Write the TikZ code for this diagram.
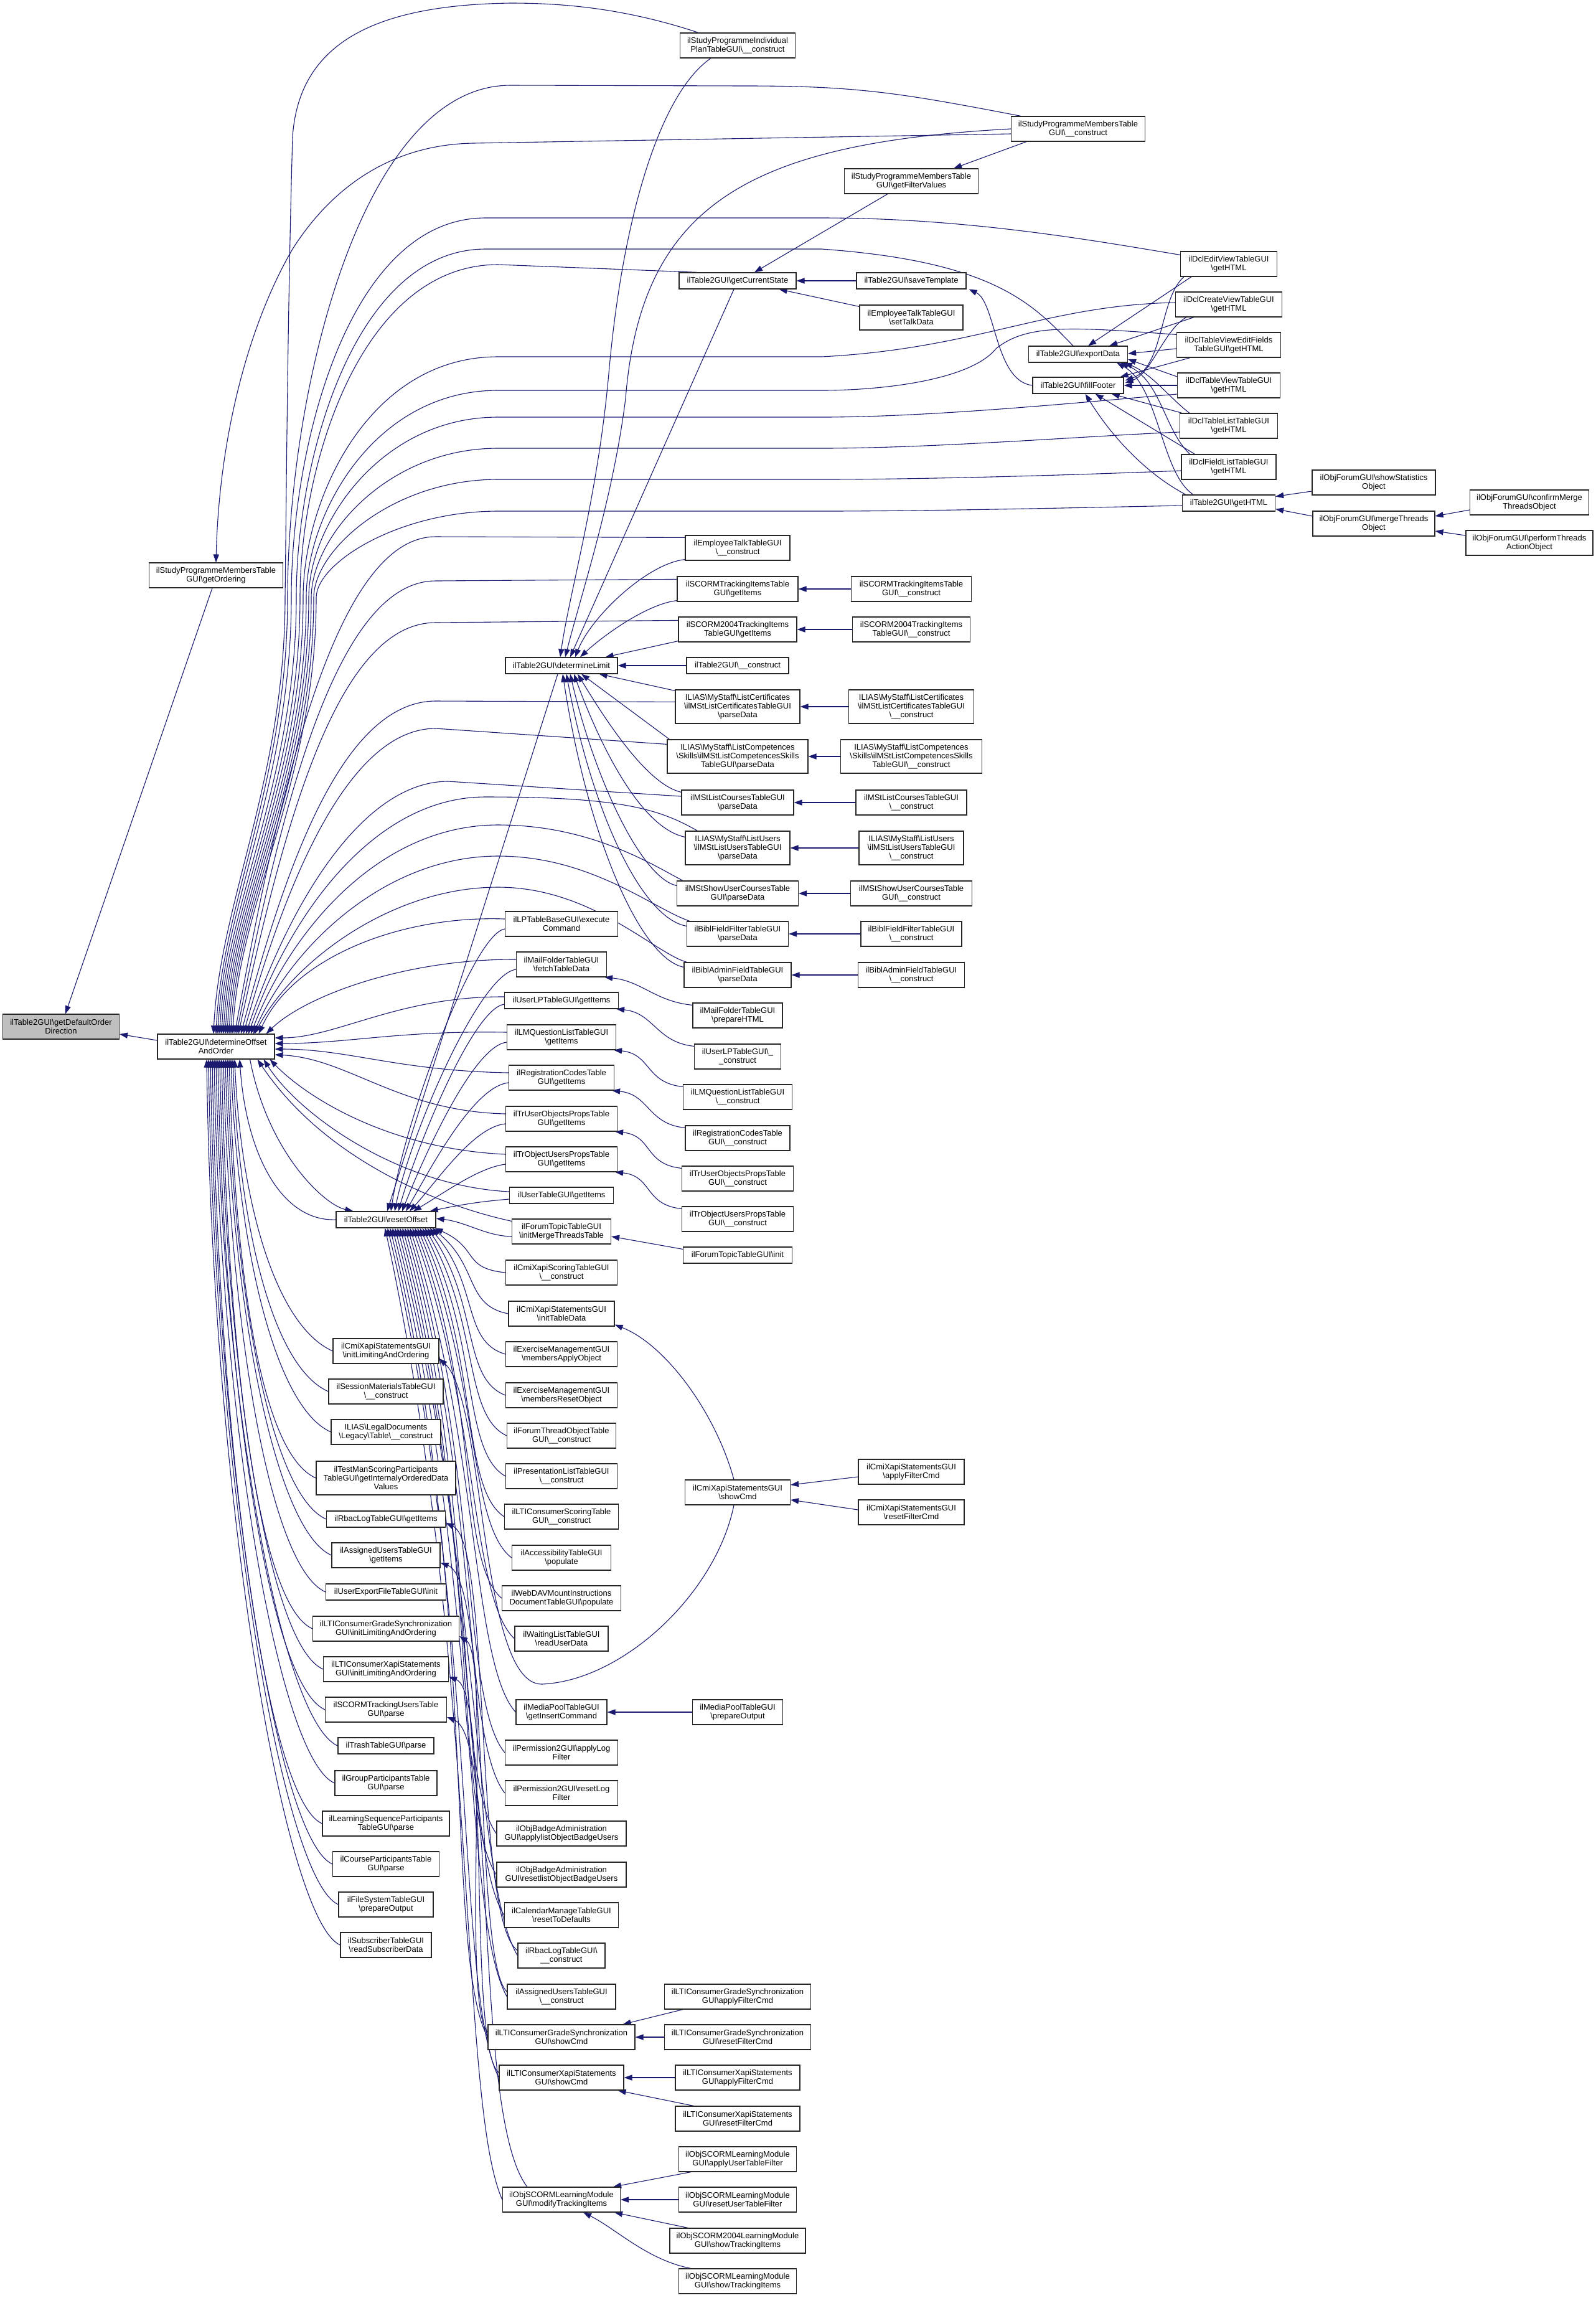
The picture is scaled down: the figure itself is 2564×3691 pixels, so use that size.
\documentclass[tikz,border=0pt]{standalone}
\usepackage{fontspec}
\setmainfont{Liberation Sans}
\usetikzlibrary{arrows.meta,calc}
\definecolor{edgec}{HTML}{191970}
\definecolor{gfill}{HTML}{BFBFBF}
\newcommand\bsl{\textbackslash}
\pgfdeclarelayer{bg}
\pgfsetlayers{bg,main}
\tikzset{
  nbox/.style={draw=black!85, line width=0.6pt, fill=white, font=\fontsize{6.5pt}{7pt}\selectfont, align=center, inner sep=0pt},
  edg/.style={draw=edgec, line width=0.55pt, -{Triangle[length=6.5pt,width=4.6pt]}},
}
\newcommand\nd[6]{\node[nbox,minimum width=#4*0.5pt,minimum height=#5*0.5pt] (#1) at (#2,#3) {#6};}
% high sources into DO top
\newcommand\edTh[6]{\draw[edg] #1 (#4,#2) .. controls (#5,#2) and (#6,{#2+0.6*(960-(#2))}) .. (#6,960) .. controls (#6,1250) and ({357+(#3)},1450) .. ($(DO.north)+(#3,0)$);}
% lower sources into DO top
\newcommand\edT[6]{\draw[edg] #1 (#4,#2) .. controls (#5,#2) and ({#6},{#2+0.5*(1661-(#2))}) .. ($(DO.north)+(#3,0)$);}
% rank-2 nodes into DO bottom
\newcommand\edB[2]{\draw[edg] let \p1=(#1.west), \p2=($(DO.south)+(#2,0)$) in (#1.west) .. controls ({\x1-45pt},{\y1+20pt}) and ({\x2+5pt},{\y2+0.5*(\y1-\y2)}) .. ($(DO.south)+(#2,0)$);}
% lower rank-3 nodes into resetOffset
\newcommand\edR[2]{\draw[edg] let \p1=(#1.west), \p2=($(RO.south east)+(#2,0)$) in (#1.west) .. controls ({\x1-35pt},{\y1+0.1*(\y2-\y1)}) and (385pt,{\y2+0.45*(\y1-\y2)}) .. ($(RO.south east)+(#2,0)$);}
% step-down edges
\newcommand\edS[2]{\draw[edg] ($(#1.north west)+(0,4)$) .. controls +(-60,-6) and +(60,6) .. ($(#2.south east)+(-4,0)$);}
\begin{document}
\begin{tikzpicture}[x=0.5pt,y=-0.5pt]
\useasboundingbox (0,0) rectangle (2564,3691);
\begin{pgfonlayer}{bg}
\fill[white] (0,0) rectangle (2564,3691);
\end{pgfonlayer}
% ---------------- nodes ----------------
\node[nbox,fill=gfill,minimum width=93.5pt,minimum height=20pt] (GDO) at (98,1649) {ilTable2GUI\bsl{}getDefaultOrder\\Direction};
\nd{GOR}{347}{924}{215}{40}{ilStudyProgrammeMembersTable\\GUI\bsl{}getOrdering}
\nd{DO}{347}{1681}{188}{40}{ilTable2GUI\bsl{}determineOffset\\AndOrder}
% rank 2
\nd{RO}{620}{1959}{160}{26}{ilTable2GUI\bsl{}resetOffset}
\nd{CA}{620}{2170}{170}{40}{ilCmiXapiStatementsGUI\\\bsl{}initLimitingAndOrdering}
\nd{CB}{620}{2235}{184}{40}{ilSessionMaterialsTableGUI\\\bsl{}\_\_construct}
\nd{CC}{620}{2300}{176}{40}{ILIAS\bsl{}LegalDocuments\\\bsl{}Legacy\bsl{}Table\bsl{}\_\_construct}
\nd{CD}{620}{2374}{224}{54}{ilTestManScoringParticipants\\TableGUI\bsl{}getInternalyOrderedData\\Values}
\nd{CE}{620}{2440}{191}{26}{ilRbacLogTableGUI\bsl{}getItems}
\nd{CF}{620}{2498}{174}{40}{ilAssignedUsersTableGUI\\\bsl{}getItems}
\nd{CG}{620}{2557}{193}{26}{ilUserExportFileTableGUI\bsl{}init}
\nd{CH}{620}{2616}{235}{40}{ilLTIConsumerGradeSynchronization\\GUI\bsl{}initLimitingAndOrdering}
\nd{CI}{620}{2681}{201}{40}{ilLTIConsumerXapiStatements\\GUI\bsl{}initLimitingAndOrdering}
\nd{CJ}{620}{2746}{195}{40}{ilSCORMTrackingUsersTable\\GUI\bsl{}parse}
\nd{CK}{620}{2804}{154}{26}{ilTrashTableGUI\bsl{}parse}
\nd{CL}{620}{2864}{164}{40}{ilGroupParticipantsTable\\GUI\bsl{}parse}
\nd{CM}{620}{2929}{204}{40}{ilLearningSequenceParticipants\\TableGUI\bsl{}parse}
\nd{CN}{620}{2994}{171}{40}{ilCourseParticipantsTable\\GUI\bsl{}parse}
\nd{CO}{620}{3059}{152}{40}{ilFileSystemTableGUI\\\bsl{}prepareOutput}
\nd{CP}{620}{3124}{146}{40}{ilSubscriberTableGUI\\\bsl{}readSubscriberData}
% rank 3
\nd{DL}{902}{1069}{180}{26}{ilTable2GUI\bsl{}determineLimit}
\nd{LPT}{902}{1484}{181}{40}{ilLPTableBaseGUI\bsl{}execute\\Command}
\nd{MFF}{902}{1549}{145}{40}{ilMailFolderTableGUI\\\bsl{}fetchTableData}
\nd{ULG}{902}{1607}{183}{26}{ilUserLPTableGUI\bsl{}getItems}
\nd{LMG}{902}{1666}{175}{40}{ilLMQuestionListTableGUI\\\bsl{}getItems}
\nd{RCG}{902}{1731}{169}{40}{ilRegistrationCodesTable\\GUI\bsl{}getItems}
\nd{TUG}{902}{1797}{179}{40}{ilTrUserObjectsPropsTable\\GUI\bsl{}getItems}
\nd{TOG}{902}{1862}{179}{40}{ilTrObjectUsersPropsTable\\GUI\bsl{}getItems}
\nd{UTG}{902}{1920}{167}{26}{ilUserTableGUI\bsl{}getItems}
\nd{FTM}{902}{1978}{159}{40}{ilForumTopicTableGUI\\\bsl{}initMergeThreadsTable}
\nd{CXS}{902}{2044}{179}{40}{ilCmiXapiScoringTableGUI\\\bsl{}\_\_construct}
\nd{CXT}{902}{2110}{170}{40}{ilCmiXapiStatementsGUI\\\bsl{}initTableData}
\nd{EMA}{902}{2175}{179}{40}{ilExerciseManagementGUI\\\bsl{}membersApplyObject}
\nd{EMR}{902}{2241}{179}{40}{ilExerciseManagementGUI\\\bsl{}membersResetObject}
\nd{FTO}{902}{2306}{175}{40}{ilForumThreadObjectTable\\GUI\bsl{}\_\_construct}
\nd{PLC}{902}{2371}{179}{40}{ilPresentationListTableGUI\\\bsl{}\_\_construct}
\nd{LSC}{902}{2436}{183}{40}{ilLTIConsumerScoringTable\\GUI\bsl{}\_\_construct}
\nd{ACC}{902}{2502}{159}{40}{ilAccessibilityTableGUI\\\bsl{}populate}
\nd{WDV}{902}{2567}{191}{40}{ilWebDAVMountInstructions\\DocumentTableGUI\bsl{}populate}
\nd{WLR}{902}{2632}{150}{40}{ilWaitingListTableGUI\\\bsl{}readUserData}
\nd{MPI}{902}{2750}{146}{40}{ilMediaPoolTableGUI\\\bsl{}getInsertCommand}
\nd{PAL}{902}{2815}{181}{40}{ilPermission2GUI\bsl{}applyLog\\Filter}
\nd{PRL}{902}{2880}{181}{40}{ilPermission2GUI\bsl{}resetLog\\Filter}
\nd{OBA}{902}{2945}{208}{40}{ilObjBadgeAdministration\\GUI\bsl{}applylistObjectBadgeUsers}
\nd{OBR}{902}{3011}{208}{40}{ilObjBadgeAdministration\\GUI\bsl{}resetlistObjectBadgeUsers}
\nd{CMR}{902}{3076}{183}{40}{ilCalendarManageTableGUI\\\bsl{}resetToDefaults}
\nd{RLC}{902}{3141}{140}{40}{ilRbacLogTableGUI\bsl{}\\\_\_construct}
\nd{AUC}{902}{3207}{174}{40}{ilAssignedUsersTableGUI\\\bsl{}\_\_construct}
\nd{LGS}{902}{3272}{236}{40}{ilLTIConsumerGradeSynchronization\\GUI\bsl{}showCmd}
\nd{LXS}{902}{3337}{200}{40}{ilLTIConsumerXapiStatements\\GUI\bsl{}showCmd}
\nd{MTI}{902}{3533}{189}{40}{ilObjSCORMLearningModule\\GUI\bsl{}modifyTrackingItems}
% rank 4
\nd{SPI}{1185}{73}{185}{40}{ilStudyProgrammeIndividual\\PlanTableGUI\bsl{}\_\_construct}
\nd{GCS}{1185}{451}{188}{26}{ilTable2GUI\bsl{}getCurrentState}
\nd{ETC}{1185}{880}{168}{40}{ilEmployeeTalkTableGUI\\\bsl{}\_\_construct}
\nd{STG}{1185}{946}{194}{40}{ilSCORMTrackingItemsTable\\GUI\bsl{}getItems}
\nd{S4G}{1185}{1011}{190}{40}{ilSCORM2004TrackingItems\\TableGUI\bsl{}getItems}
\nd{T2C}{1185}{1069}{164}{26}{ilTable2GUI\bsl{}\_\_construct}
\nd{LCP}{1185}{1135}{200}{54}{ILIAS\bsl{}MyStaff\bsl{}ListCertificates\\\bsl{}ilMStListCertificatesTableGUI\\\bsl{}parseData}
\nd{LMP}{1185}{1215}{226}{54}{ILIAS\bsl{}MyStaff\bsl{}ListCompetences\\\bsl{}Skills\bsl{}ilMStListCompetencesSkills\\TableGUI\bsl{}parseData}
\nd{MCP}{1185}{1289}{180}{40}{ilMStListCoursesTableGUI\\\bsl{}parseData}
\nd{LUP}{1185}{1362}{168}{54}{ILIAS\bsl{}MyStaff\bsl{}ListUsers\\\bsl{}ilMStListUsersTableGUI\\\bsl{}parseData}
\nd{MSP}{1185}{1435}{195}{40}{ilMStShowUserCoursesTable\\GUI\bsl{}parseData}
\nd{BFP}{1185}{1500}{163}{40}{ilBiblFieldFilterTableGUI\\\bsl{}parseData}
\nd{BAP}{1185}{1566}{172}{40}{ilBiblAdminFieldTableGUI\\\bsl{}parseData}
\nd{MFP}{1185}{1631}{144}{40}{ilMailFolderTableGUI\\\bsl{}prepareHTML}
\nd{ULC}{1185}{1697}{139}{40}{ilUserLPTableGUI\bsl{}\_\\\_construct}
\nd{LMC}{1185}{1762}{175}{40}{ilLMQuestionListTableGUI\\\bsl{}\_\_construct}
\nd{RCC}{1185}{1828}{168}{40}{ilRegistrationCodesTable\\GUI\bsl{}\_\_construct}
\nd{TUC}{1185}{1893}{179}{40}{ilTrUserObjectsPropsTable\\GUI\bsl{}\_\_construct}
\nd{TOC}{1185}{1958}{179}{40}{ilTrObjectUsersPropsTable\\GUI\bsl{}\_\_construct}
\nd{FTI}{1185}{2016}{175}{26}{ilForumTopicTableGUI\bsl{}init}
\nd{CSC}{1185}{2397}{169}{40}{ilCmiXapiStatementsGUI\\\bsl{}showCmd}
\nd{MPO}{1185}{2750}{145}{40}{ilMediaPoolTableGUI\\\bsl{}prepareOutput}
\nd{LGA}{1185}{3207}{235}{40}{ilLTIConsumerGradeSynchronization\\GUI\bsl{}applyFilterCmd}
\nd{LGR}{1185}{3272}{235}{40}{ilLTIConsumerGradeSynchronization\\GUI\bsl{}resetFilterCmd}
\nd{LXA}{1185}{3337}{200}{40}{ilLTIConsumerXapiStatements\\GUI\bsl{}applyFilterCmd}
\nd{LXR}{1185}{3403}{200}{40}{ilLTIConsumerXapiStatements\\GUI\bsl{}resetFilterCmd}
\nd{SAU}{1185}{3468}{189}{40}{ilObjSCORMLearningModule\\GUI\bsl{}applyUserTableFilter}
\nd{SRU}{1185}{3533}{189}{40}{ilObjSCORMLearningModule\\GUI\bsl{}resetUserTableFilter}
\nd{S4T}{1185}{3599}{218}{40}{ilObjSCORM2004LearningModule\\GUI\bsl{}showTrackingItems}
\nd{SST}{1185}{3664}{189}{40}{ilObjSCORMLearningModule\\GUI\bsl{}showTrackingItems}
% rank 5
\nd{GFV}{1464}{291}{215}{40}{ilStudyProgrammeMembersTable\\GUI\bsl{}getFilterValues}
\nd{SVT}{1464}{451}{176}{26}{ilTable2GUI\bsl{}saveTemplate}
\nd{STD}{1464}{510}{166}{40}{ilEmployeeTalkTableGUI\\\bsl{}setTalkData}
\nd{STC}{1464}{946}{193}{40}{ilSCORMTrackingItemsTable\\GUI\bsl{}\_\_construct}
\nd{S4C}{1464}{1011}{189}{40}{ilSCORM2004TrackingItems\\TableGUI\bsl{}\_\_construct}
\nd{LCC}{1464}{1135}{201}{54}{ILIAS\bsl{}MyStaff\bsl{}ListCertificates\\\bsl{}ilMStListCertificatesTableGUI\\\bsl{}\_\_construct}
\nd{LMCC}{1464}{1215}{227}{54}{ILIAS\bsl{}MyStaff\bsl{}ListCompetences\\\bsl{}Skills\bsl{}ilMStListCompetencesSkills\\TableGUI\bsl{}\_\_construct}
\nd{MCC}{1464}{1289}{178}{40}{ilMStListCoursesTableGUI\\\bsl{}\_\_construct}
\nd{LUC}{1464}{1362}{168}{54}{ILIAS\bsl{}MyStaff\bsl{}ListUsers\\\bsl{}ilMStListUsersTableGUI\\\bsl{}\_\_construct}
\nd{MSC}{1464}{1435}{195}{40}{ilMStShowUserCoursesTable\\GUI\bsl{}\_\_construct}
\nd{BFC}{1464}{1500}{162}{40}{ilBiblFieldFilterTableGUI\\\bsl{}\_\_construct}
\nd{BAC}{1464}{1566}{171}{40}{ilBiblAdminFieldTableGUI\\\bsl{}\_\_construct}
\nd{CAF}{1464}{2364}{170}{40}{ilCmiXapiStatementsGUI\\\bsl{}applyFilterCmd}
\nd{CRF}{1464}{2429}{170}{40}{ilCmiXapiStatementsGUI\\\bsl{}resetFilterCmd}
% rank 6
\nd{SPM}{1732}{207}{215}{40}{ilStudyProgrammeMembersTable\\GUI\bsl{}\_\_construct}
\nd{EXD}{1732}{569}{159}{26}{ilTable2GUI\bsl{}exportData}
\nd{FFT}{1732}{619}{146}{26}{ilTable2GUI\bsl{}fillFooter}
% rank 7
\nd{DEV}{1974}{424}{155}{40}{ilDclEditViewTableGUI\\\bsl{}getHTML}
\nd{DCV}{1974}{489}{171}{40}{ilDclCreateViewTableGUI\\\bsl{}getHTML}
\nd{DTE}{1974}{554}{167}{40}{ilDclTableViewEditFields\\TableGUI\bsl{}getHTML}
\nd{DTV}{1974}{619}{165}{40}{ilDclTableViewTableGUI\\\bsl{}getHTML}
\nd{DTL}{1974}{684}{157}{40}{ilDclTableListTableGUI\\\bsl{}getHTML}
\nd{DFL}{1974}{750}{152}{40}{ilDclFieldListTableGUI\\\bsl{}getHTML}
\nd{T2H}{1974}{808}{149}{26}{ilTable2GUI\bsl{}getHTML}
% rank 8, 9
\nd{FSS}{2207}{775}{198}{40}{ilObjForumGUI\bsl{}showStatistics\\Object}
\nd{FMT}{2207}{841}{196}{40}{ilObjForumGUI\bsl{}mergeThreads\\Object}
\nd{FCM}{2457}{807}{191}{40}{ilObjForumGUI\bsl{}confirmMerge\\ThreadsObject}
\nd{FPT}{2457}{872}{204}{40}{ilObjForumGUI\bsl{}performThreads\\ActionObject}
% ---------------- edges ----------------
\begin{pgfonlayer}{bg}
\draw[edg] ($(GOR.south)+(-6,0)$) -- ($(GDO.north)+(7,0)$);
\draw[edg] ($(DO.west)+(0,-10)$) -- ($(GDO.east)+(0,12)$);
% top long edges
\draw[edg] ($(SPM.west)+(0,8)$) -- (760,230) .. controls (640,232) and (540,290) .. (470,400) .. controls (400,520) and (352,700) .. (GOR.north);
\draw[edg] ($(SPI.north west)+(30,0)$) .. controls (1000,12) and (900,5) .. (820,5) .. controls (600,8) and (480,70) .. (470,220) .. controls (462,500) and (460,800) .. (458,960) .. controls (458,1250) and (353,1450) .. ($(DO.north)+(-4,0)$);
\edTh{($(SPM.north west)+(16,0)$) .. controls (1450,150) and (1380,138) .. (1200,138) --}{137}{0}{820}{580}{462}
\edTh{($(DEV.north west)+(0,6)$) .. controls (1750,385) and (1550,350) .. (1320,350) --}{350}{3}{780}{560}{468}
\edTh{($(EXD.north)+(-8,0)$) .. controls (1660,490) and (1600,420) .. (1320,400) --}{400}{6}{780}{570}{476}
\edTh{($(GCS.north west)+(30,0)$) --}{425}{9}{800}{580}{482}
\edTh{($(DCV.west)+(0,-3)$) .. controls (1680,490) and (1570,560) .. (1320,573) --}{573}{12}{800}{590}{487}
\edTh{($(DTE.north west)+(0,4)$) .. controls (1720,525) and (1650,520) .. (1600,560) .. controls (1560,610) and (1420,627) .. (1320,627) --}{627}{15}{800}{600}{492}
\edTh{($(DTV.west)+(0,14)$) .. controls (1750,645) and (1500,670) .. (1320,670) --}{670}{18}{800}{610}{496}
\edTh{($(DTL.west)+(0,10)$) .. controls (1750,700) and (1500,720) .. (1320,720) --}{720}{21}{800}{620}{500}
\edTh{($(DFL.west)+(0,6)$) .. controls (1750,762) and (1500,770) .. (1320,770) --}{770}{24}{800}{630}{504}
\edTh{($(T2H.west)+(0,4)$) .. controls (1750,815) and (1500,821) .. (1320,821) --}{821}{27}{800}{640}{508}
\edT{($(ETC.north west)+(0,4)$) --}{862}{30}{700}{540}{450}
\edT{($(STG.north west)+(0,5)$) --}{933}{33}{700}{540}{452}
\edT{($(S4G.north west)+(0,6)$) --}{1000}{36}{700}{540}{455}
\edT{($(LCP.north west)+(0,20)$) --}{1126}{40}{700}{550}{458}
\edT{($(LMP.north west)+(0,8)$) --}{1170}{44}{700}{560}{460}
\edT{($(MCP.west)+(0,-10)$) --}{1255}{48}{720}{580}{462}
\edT{($(LUP.north west)+(20,0)$) .. controls (1060,1300) and (1000,1280) ..}{1280}{52}{780}{600}{465}
\edT{($(MSP.north west)+(10,0)$) .. controls (1050,1390) and (950,1325) ..}{1325}{56}{800}{610}{468}
\edT{($(BFP.north west)+(5,0)$) .. controls (1050,1460) and (950,1375) ..}{1375}{60}{800}{620}{470}
\edT{($(BAP.north west)+(5,0)$) .. controls (1050,1530) and (950,1425) ..}{1425}{62}{800}{630}{472}
% rank-3 upper nodes to DO
\draw[edg] ($(LPT.west)+(0,-8)$) .. controls (640,1470) and (470,1540) .. ($(DO.north east)+(-26,0)$);
\draw[edg] ($(MFF.west)+(0,-8)$) .. controls (650,1540) and (490,1600) .. ($(DO.north east)+(-14,0)$);
\draw[edg] ($(ULG.west)+(0,-6)$) .. controls (640,1600) and (540,1667) .. ($(DO.east)+(0,-14)$);
\draw[edg] ($(LMG.west)+(0,-8)$) .. controls (640,1655) and (560,1676) .. ($(DO.east)+(0,-5)$);
\draw[edg] ($(RCG.west)+(0,-8)$) .. controls (640,1720) and (560,1685) .. ($(DO.east)+(0,4)$);
\draw[edg] ($(TUG.west)+(0,-8)$) .. controls (640,1785) and (560,1700) .. ($(DO.east)+(0,13)$);
\draw[edg] ($(TOG.west)+(0,-8)$) .. controls (620,1845) and (490,1760) .. ($(DO.south east)+(-8,0)$);
\draw[edg] ($(UTG.west)+(0,-6)$) .. controls (640,1905) and (480,1790) .. ($(DO.south east)+(-18,0)$);
\draw[edg] ($(FTM.north west)+(0,4)$) .. controls (700,1935) and (520,1860) .. ($(DO.south east)+(-28,0)$);
% rank-3 upper nodes to resetOffset
\draw[edg] ($(DL.south)+(-6,0)$) -- ($(RO.north)+(2,0)$);
\draw[edg] ($(LPT.west)+(0,8)$) .. controls (760,1500) and (650,1800) .. ($(RO.north)+(8,0)$);
\draw[edg] ($(MFF.west)+(0,8)$) .. controls (770,1565) and (660,1820) .. ($(RO.north)+(14,0)$);
\draw[edg] ($(ULG.west)+(0,6)$) .. controls (760,1620) and (670,1840) .. ($(RO.north)+(20,0)$);
\draw[edg] ($(LMG.west)+(0,8)$) .. controls (760,1680) and (680,1860) .. ($(RO.north)+(26,0)$);
\draw[edg] ($(RCG.west)+(0,8)$) .. controls (760,1745) and (690,1880) .. ($(RO.north)+(32,0)$);
\draw[edg] ($(TUG.west)+(0,8)$) .. controls (760,1810) and (700,1900) .. ($(RO.north)+(38,0)$);
\draw[edg] ($(TOG.west)+(0,8)$) .. controls (770,1875) and (715,1915) .. ($(RO.north)+(44,0)$);
\draw[edg] ($(UTG.west)+(0,6)$) .. controls (770,1930) and (740,1935) .. ($(RO.north east)+(-10,0)$);
\draw[edg] ($(FTM.west)+(0,8)$) .. controls (780,1985) and (750,1963) .. ($(RO.east)+(0,-2)$);
% DO <-> RO
\draw[edg] ($(DO.south east)+(-40,0)$) .. controls (430,1850) and (520,1935) .. ($(RO.north west)+(28,0)$);
\draw[edg] (RO.west) .. controls (450,1962) and (395,1850) .. ($(DO.south)+(38,0)$);
% rank-2 nodes to DO
\edB{CA}{30} \edB{CB}{27} \edB{CC}{24} \edB{CD}{21} \edB{CE}{18} \edB{CF}{15}
\edB{CG}{12} \edB{CH}{9} \edB{CI}{6} \edB{CJ}{3} \edB{CK}{0} \edB{CL}{-3}
\edB{CM}{-6} \edB{CN}{-9} \edB{CO}{-12} \edB{CP}{-15}
% lower rank-3 nodes to resetOffset
\edR{CXS}{-2} \edR{CXT}{-6} \edR{EMA}{-10} \edR{EMR}{-14} \edR{FTO}{-18} \edR{PLC}{-22}
\edR{LSC}{-26} \edR{ACC}{-30} \edR{WDV}{-34} \edR{WLR}{-38} \edR{MPI}{-42} \edR{PAL}{-46}
\edR{PRL}{-50} \edR{OBA}{-54} \edR{OBR}{-58} \edR{CMR}{-62} \edR{RLC}{-66} \edR{AUC}{-70}
\edR{LGS}{-74} \edR{LXS}{-78} \edR{MTI}{-82}
% rank-3 to rank-2 extra
\draw[edg] ($(RLC.west)+(0,-8)$) .. controls (760,3080) and (790,2480) .. ($(CE.east)+(0,6)$);
\draw[edg] ($(AUC.west)+(0,-8)$) .. controls (760,3150) and (790,2540) .. ($(CF.east)+(0,12)$);
\draw[edg] ($(LGS.west)+(0,-8)$) .. controls (740,3220) and (790,2660) .. ($(CH.east)+(0,12)$);
\draw[edg] ($(LXS.west)+(0,-8)$) .. controls (750,3290) and (790,2720) .. ($(CI.east)+(0,12)$);
\draw[edg] ($(MTI.north west)+(40,0)$) .. controls (760,3400) and (800,2790) .. ($(CJ.east)+(0,12)$);
\draw[edg] ($(CSC.south)+(-6,0)$) .. controls (1150,2560) and (1000,2700) .. (870,2705) .. controls (770,2705) and (780,2250) .. ($(CA.east)+(0,12)$);
\draw[edg] ($(CSC.north)+(-6,0)$) .. controls (1150,2270) and (1070,2160) .. ($(CXT.south east)+(0,-3)$);
% determineLimit callers
\draw[edg] (T2C.west) -- (DL.east);
\draw[edg] ($(SPI.south west)+(50,0)$) .. controls (1060,150) and (1000,350) .. (978,600) .. controls (960,800) and (915,950) .. ($(DL.north)+(-2,0)$);
\draw[edg] (SPM.west) .. controls (1200,230) and (1030,330) .. (1005,640) .. controls (985,800) and (935,950) .. ($(DL.north)+(6,0)$);
\draw[edg] ($(GCS.south)+(-6,0)$) -- ($(DL.north)+(14,0)$);
\draw[edg] ($(ETC.south west)+(0,-2)$) .. controls (1040,905) and (950,990) .. ($(DL.north)+(22,0)$);
\draw[edg] ($(STG.south west)+(0,-2)$) .. controls (1040,970) and (970,1020) .. ($(DL.north)+(30,0)$);
\draw[edg] ($(S4G.south west)+(0,-2)$) -- ($(DL.north east)+(-20,0)$);
\draw[edg] ($(LCP.north west)+(0,2)$) -- ($(DL.south east)+(-30,0)$);
\draw[edg] ($(LMP.north west)+(4,0)$) -- ($(DL.south)+(32,0)$);
\draw[edg] ($(MCP.north west)+(0,4)$) .. controls (1040,1260) and (975,1160) .. ($(DL.south)+(26,0)$);
\draw[edg] ($(LUP.north west)+(0,10)$) .. controls (1030,1330) and (965,1200) .. ($(DL.south)+(20,0)$);
\draw[edg] ($(MSP.north west)+(0,8)$) .. controls (1030,1410) and (955,1250) .. ($(DL.south)+(14,0)$);
\draw[edg] ($(BFP.north west)+(0,8)$) .. controls (1030,1475) and (950,1300) .. ($(DL.south)+(8,0)$);
\draw[edg] ($(BAP.north west)+(0,8)$) .. controls (1030,1540) and (945,1350) .. ($(DL.south)+(2,0)$);
% rank 5 -> rank 4
\draw[edg] (STC.west) -- (STG.east);
\draw[edg] (S4C.west) -- (S4G.east);
\draw[edg] (LCC.west) -- (LCP.east);
\draw[edg] (LMCC.west) -- (LMP.east);
\draw[edg] (MCC.west) -- (MCP.east);
\draw[edg] (LUC.west) -- (LUP.east);
\draw[edg] (MSC.west) -- (MSP.east);
\draw[edg] (BFC.west) -- (BFP.east);
\draw[edg] (BAC.west) -- (BAP.east);
\draw[edg] (SVT.west) -- (GCS.east);
\draw[edg] ($(STD.north west)+(0,3)$) -- ($(GCS.south east)+(-28,0)$);
\draw[edg] ($(GFV.south west)+(70,0)$) -- ($(GCS.north)+(27,0)$);
\draw[edg] ($(SPM.south west)+(25,0)$) -- ($(GFV.north east)+(-40,0)$);
\draw[edg] ($(CAF.west)+(0,8)$) -- ($(CSC.east)+(0,-12)$);
\draw[edg] ($(CRF.west)+(0,-4)$) -- ($(CSC.east)+(0,12)$);
% rank 4 -> rank 3
\edS{MFP}{MFF} \edS{ULC}{ULG} \edS{LMC}{LMG} \edS{RCC}{RCG} \edS{TUC}{TUG} \edS{TOC}{TOG}
\draw[edg] ($(FTI.north west)+(0,4)$) -- ($(FTM.east)+(0,8)$);
\draw[edg] (MPO.west) -- (MPI.east);
\draw[edg] ($(LGA.south west)+(30,0)$) -- ($(LGS.north east)+(-20,0)$);
\draw[edg] (LGR.west) -- (LGS.east);
\draw[edg] (LXA.west) -- (LXS.east);
\draw[edg] ($(LXR.north west)+(30,0)$) -- ($(LXS.south east)+(-10,0)$);
\draw[edg] ($(SAU.south west)+(20,0)$) -- ($(MTI.north east)+(-12,0)$);
\draw[edg] (SRU.west) -- (MTI.east);
\draw[edg] ($(S4T.north west)+(30,0)$) -- ($(MTI.south east)+(-10,0)$);
\draw[edg] ($(SST.north west)+(20,0)$) .. controls (1040,3630) and (990,3580) .. ($(MTI.south east)+(-60,0)$);
% Dcl / getHTML -> exportData, fillFooter
\draw[edg] ($(DEV.south west)+(18,0)$) -- ($(EXD.north east)+(-64,0)$);
\draw[edg] ($(DEV.south west)+(6,0)$) .. controls (1862,480) and (1870,590) .. ($(FFT.east)+(2,-8)$);
\draw[edg] ($(DCV.south west)+(30,0)$) -- ($(EXD.north east)+(-30,0)$);
\draw[edg] ($(DCV.south west)+(18,0)$) .. controls (1870,530) and (1850,600) .. ($(FFT.east)+(2,-4)$);
\draw[edg] ($(DTE.west)+(0,6)$) -- ($(EXD.east)+(0,-1)$);
\draw[edg] ($(DTE.south west)+(22,0)$) -- ($(FFT.north east)+(-6,0)$);
\draw[edg] ($(DTV.west)+(0,-14)$) -- ($(EXD.east)+(0,8)$);
\draw[edg] (DTV.west) -- (FFT.east);
\draw[edg] ($(DTL.north west)+(16,0)$) .. controls (1880,640) and (1850,600) .. ($(EXD.south east)+(-6,0)$);
\draw[edg] ($(DTL.north west)+(4,0)$) -- ($(FFT.south east)+(-20,0)$);
\draw[edg] ($(DFL.north west)+(14,0)$) .. controls (1870,690) and (1865,610) .. ($(EXD.south east)+(-12,0)$);
\draw[edg] ($(DFL.north west)+(22,0)$) -- ($(FFT.south east)+(-46,0)$);
\draw[edg] ($(T2H.north west)+(18,0)$) .. controls (1865,760) and (1862,620) .. ($(EXD.south east)+(-18,0)$);
\draw[edg] ($(T2H.north west)+(6,0)$) .. controls (1840,760) and (1785,700) .. ($(FFT.south east)+(-62,0)$);
\draw[edg] (FFT.west) .. controls (1598,612) and (1600,485) .. ($(SVT.south east)+(4,0)$);
% forum
\draw[edg] ($(FSS.west)+(0,14)$) -- ($(T2H.north east)+(0,3)$);
\draw[edg] ($(FMT.west)+(0,-12)$) -- ($(T2H.south east)+(0,-4)$);
\draw[edg] ($(FCM.west)+(0,12)$) -- ($(FMT.east)+(0,-12)$);
\draw[edg] ($(FPT.west)+(0,-12)$) -- ($(FMT.east)+(0,12)$);
\end{pgfonlayer}
\end{tikzpicture}
\end{document}
